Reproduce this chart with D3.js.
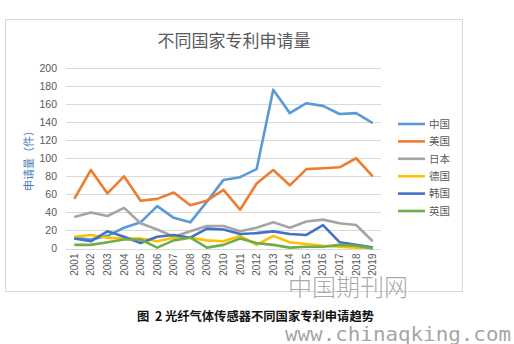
<!DOCTYPE html>
<html>
<head>
<meta charset="utf-8">
<script src="https://cdn.jsdelivr.net/npm/d3@7/dist/d3.min.js"></script>
<style>
  html, body { margin: 0; padding: 0; background: #fff; }
  svg { display: block; }
</style>
</head>
<body>
<svg id="chart" width="514" height="344"></svg>
<script>
// Patent application counts per year, by country
const years = ["2001","2002","2003","2004","2005","2006","2007","2008","2009","2010",
               "2011","2012","2013","2014","2015","2016","2017","2018","2019"];
const seriesNames = ["中国", "美国", "日本", "德国", "韩国", "英国"];
const china   = [12, 10, 14, 23, 29, 47, 34, 29, 52, 76, 79, 88, 176, 150, 161, 158, 149, 150, 139];
const usa     = [55, 87, 61, 80, 53, 55, 62, 48, 53, 65, 43, 72, 87, 70, 88, 89, 90, 100, 80];
const japan   = [35, 40, 36, 45, 28, 21, 13, 19, 25, 25, 19, 23, 29, 23, 30, 32, 28, 26, 8];
const germany = [13, 15, 12, 11, 11, 8, 12, 12, 9, 8, 14, 4, 14, 7, 5, 3, 2, 1, 1];
const korea   = [11, 8, 19, 13, 6, 13, 15, 12, 22, 21, 16, 17, 19, 16, 15, 26, 7, 4, 1];
const uk      = [4, 4, 7, 10, 10, 1, 9, 12, 1, 4, 11, 6, 4, 1, 2, 2, 4, 3, 0];
const yTicks  = [0, 20, 40, 60, 80, 100, 120, 140, 160, 180, 200];
const colors  = ["#5b9bd5", "#ed7d31", "#a5a5a5", "#ffc000", "#4472c4", "#70ad47"];

const seriesValues = [china, usa, japan, germany, korea, uk];
const series = seriesNames.map((name, i) => ({ name, values: seriesValues[i], color: colors[i] }));

const svg = d3.select("#chart");
const plot = { left: 66, right: 381, top: 68, bottom: 248.5 };
const cjk = "'Noto Sans CJK SC', 'Noto Sans', sans-serif";
const latin = "'Liberation Sans', Arial, sans-serif";

// outer chart frame
svg.append("rect")
  .attr("x", 5.5).attr("y", 19.5).attr("width", 457).attr("height", 272)
  .attr("fill", "#fff").attr("stroke", "#d9d9d9").attr("stroke-width", 1);

// title
svg.append("text")
  .attr("x", 234).attr("y", 47)
  .attr("text-anchor", "middle")
  .attr("font-family", cjk).attr("font-size", 17)
  .attr("fill", "#595959")
  .text("不同国家专利申请量");

const x = d3.scaleBand().domain(years).range([plot.left, plot.right]);
const y = d3.scaleLinear().domain([0, 200]).range([plot.bottom, plot.top]);

// horizontal gridlines
svg.append("g")
  .selectAll("line")
  .data(yTicks)
  .join("line")
  .attr("x1", plot.left).attr("x2", plot.right)
  .attr("y1", d => Math.round(y(d)) + 0.5).attr("y2", d => Math.round(y(d)) + 0.5)
  .attr("stroke", "#d9d9d9").attr("stroke-width", 1);

// y axis labels
const yAxis = d3.axisLeft(y).tickValues(yTicks).tickSize(0).tickPadding(9);
const gy = svg.append("g").attr("transform", `translate(${plot.left},0)`).call(yAxis);
gy.select(".domain").remove();
gy.selectAll("text")
  .attr("font-family", latin).attr("font-size", 10.5).attr("fill", "#595959");

// x axis labels, rotated
const xAxis = d3.axisBottom(x).tickSize(0).tickPadding(0);
const gx = svg.append("g").attr("transform", `translate(0,${plot.bottom})`).call(xAxis);
gx.select(".domain").remove();
gx.selectAll("text")
  .attr("font-family", latin).attr("font-size", 10).attr("fill", "#595959")
  .attr("transform", "rotate(-90)")
  .attr("text-anchor", "end")
  .attr("dy", "0.35em")
  .attr("x", -5).attr("y", 0);

// y axis title
svg.append("text")
  .attr("transform", "translate(33,158) rotate(-90)")
  .attr("text-anchor", "middle")
  .attr("font-family", cjk).attr("font-size", 11)
  .attr("fill", "#4a7ebb")
  .text("申请量（件）");

// series lines
const line = d3.line()
  .x((d, i) => x(years[i]) + x.bandwidth() / 2)
  .y(d => y(d));

svg.append("g")
  .selectAll("path")
  .data(series)
  .join("path")
  .attr("d", d => line(d.values))
  .attr("fill", "none")
  .attr("stroke", d => d.color)
  .attr("stroke-width", 2.6)
  .attr("stroke-linejoin", "round");

// legend
const legend = svg.append("g")
  .selectAll("g")
  .data(series)
  .join("g")
  .attr("transform", (d, i) => `translate(398,${124 + i * 17.4})`);
legend.append("line")
  .attr("x1", 0).attr("x2", 27)
  .attr("stroke", d => d.color).attr("stroke-width", 2.6);
legend.append("text")
  .attr("x", 31).attr("dy", "0.36em")
  .attr("font-family", cjk).attr("font-size", 10.5)
  .attr("fill", "#595959")
  .text(d => d.name);

// figure caption
svg.append("text")
  .attr("x", 137).attr("y", 321)
  .attr("font-family", cjk).attr("font-size", 12.3).attr("font-weight", 700)
  .attr("fill", "#111")
  .style("white-space", "pre")
  .text("图  2 光纤气体传感器不同国家专利申请趋势");

// site marks
svg.append("text")
  .attr("x", 288).attr("y", 296)
  .attr("font-family", cjk).attr("font-size", 24).attr("font-weight", 300)
  .attr("fill", "#8c8c8c").attr("fill-opacity", 0.75)
  .text("中国期刊网");
svg.append("text")
  .attr("x", 285).attr("y", 341)
  .attr("font-family", "'DejaVu Sans Mono', 'Liberation Mono', monospace").attr("font-size", 19)
  .attr("textLength", 226).attr("lengthAdjust", "spacingAndGlyphs")
  .attr("fill", "#8c8c8c").attr("fill-opacity", 0.8)
  .text("www.chinaqking.com");
</script>
</body>
</html>
